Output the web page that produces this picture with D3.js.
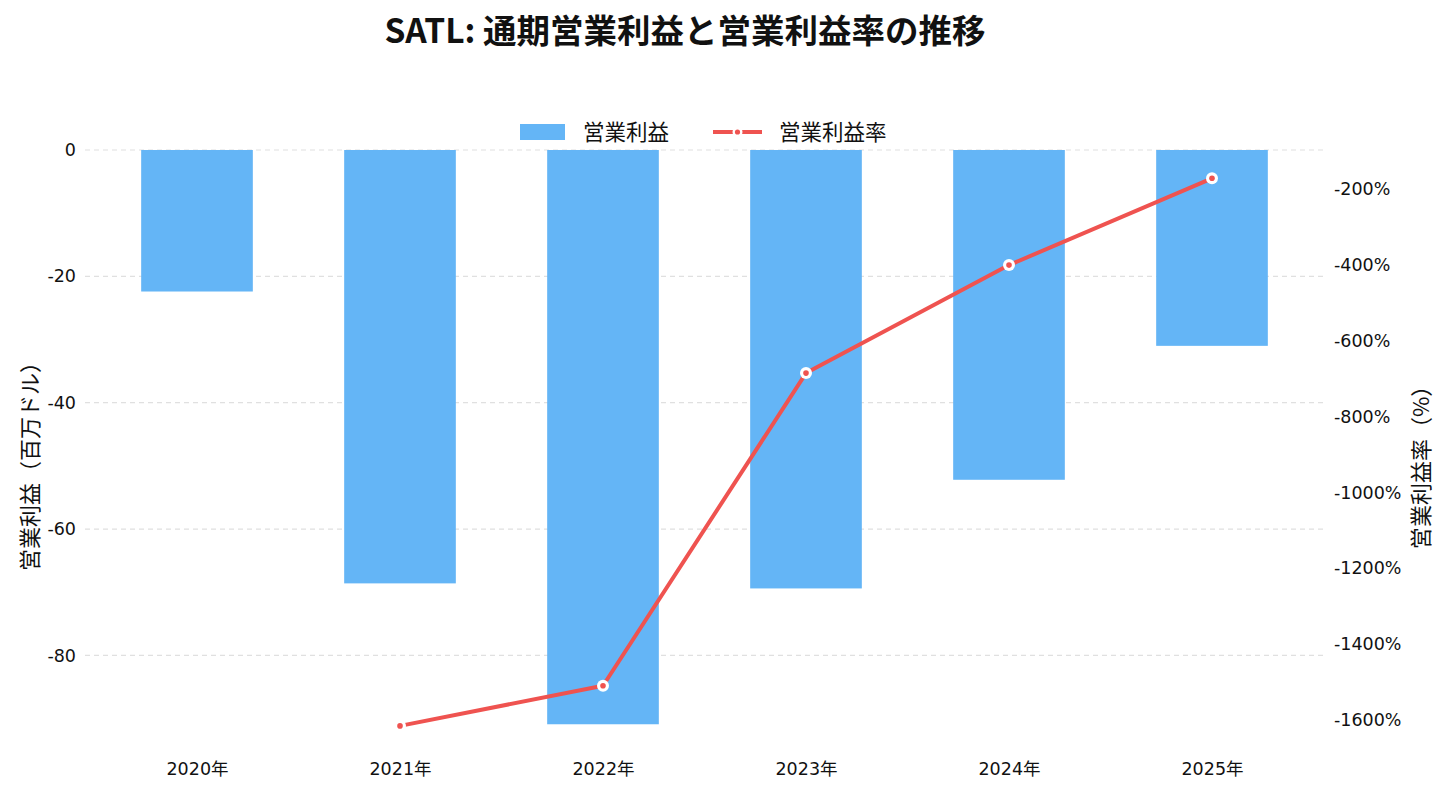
<!DOCTYPE html>
<html><head><meta charset="utf-8">
<script src="https://cdn.jsdelivr.net/npm/d3@7"></script>
<style>body{margin:0;background:#fff;}</style>
</head><body><svg id="c" width="1450" height="798"></svg>
<script>
const categories = ["2020年","2021年","2022年","2023年","2024年","2025年"];
const operatingProfit = [-22.4, -68.6, -90.9, -69.4, -52.2, -31.0];
const operatingMargin = [null, -1616, -1510, -685, -400, -171];
const leftTicks = [0, -20, -40, -60, -80];
const rightTicks = [-200, -400, -600, -800, -1000, -1200, -1400, -1600];

const svg = d3.select("#c");
const plot = {left: 85, right: 1325, top: 150, bottom: 735};
const barColor = "#64B5F6", lineColor = "#EF5350";
const tickFont = "'DejaVu Sans','Noto Sans CJK JP',sans-serif";
const cjkFont = "'Noto Sans CJK JP','DejaVu Sans',sans-serif";

const x = d3.scalePoint().domain(categories).range([95.5, 1313.5]).padding(0.5);
const bw = x.step() * 0.55;
const yL = d3.scaleLinear().domain([-92.6, 0]).range([plot.bottom, plot.top]);
const yR = d3.scaleLinear().domain([-1640, -96.3]).range([plot.bottom, plot.top]);

// gridlines
svg.append("g").selectAll("line").data(leftTicks).join("line")
  .attr("x1", plot.left).attr("x2", plot.right)
  .attr("y1", d => yL(d)).attr("y2", d => yL(d))
  .attr("stroke", "#e0e0e0").attr("stroke-width", 1.2).attr("stroke-dasharray", "5,4");

function styleTicks(ax) {
  ax.select(".domain").remove();
  ax.selectAll("text").style("font-size", "17.5px").style("fill", "#111").style("font-family", tickFont);
}

// left axis
const axL = svg.append("g").attr("transform", `translate(${plot.left},0)`)
  .call(d3.axisLeft(yL).tickValues(leftTicks).tickSize(0).tickPadding(9).tickFormat(d => String(d)));
styleTicks(axL);

// right axis
const axR = svg.append("g").attr("transform", `translate(${plot.right},0)`)
  .call(d3.axisRight(yR).tickValues(rightTicks).tickSize(0).tickPadding(9).tickFormat(d => String(d) + "%"));
styleTicks(axR);

// x axis
const axX = svg.append("g").attr("transform", `translate(0,${plot.bottom})`)
  .call(d3.axisBottom(x).tickSize(0).tickPadding(28));
styleTicks(axX);

// bars
svg.append("g").selectAll("rect").data(operatingProfit).join("rect")
  .attr("x", (d, i) => x(categories[i]) - bw / 2)
  .attr("width", bw)
  .attr("y", d => yL(Math.max(0, d)))
  .attr("height", d => Math.abs(yL(d) - yL(0)))
  .attr("fill", barColor);

// line
const pts = operatingMargin.map((v, i) => ({c: categories[i], v})).filter(d => d.v !== null);
svg.append("path").datum(pts)
  .attr("d", d3.line().x(d => x(d.c)).y(d => yR(d.v)))
  .attr("fill", "none").attr("stroke", lineColor).attr("stroke-width", 4).attr("stroke-linejoin", "round");
const mk = svg.append("g").selectAll("g").data(pts).join("g")
  .attr("transform", d => `translate(${x(d.c)},${yR(d.v)})`);
mk.append("circle").attr("r", 6).attr("fill", "#fff");
mk.append("circle").attr("r", 2.8).attr("fill", lineColor);

// axis titles
svg.append("text").attr("transform", "translate(38,461) rotate(-90)")
  .attr("text-anchor", "middle").style("font-size", "22px").style("fill", "#111").style("font-family", cjkFont).text("営業利益（百万ドル）");
svg.append("text").attr("transform", "translate(1429,462) rotate(-90)")
  .attr("text-anchor", "middle").style("font-size", "22px").style("fill", "#111").style("font-family", cjkFont).text("営業利益率（%）");

// title
svg.append("text").attr("x", 685).attr("y", 43).attr("text-anchor", "middle")
  .style("font-size", "33.5px").style("font-weight", "bold").style("fill", "#111").style("font-family", cjkFont)
  .text("SATL: 通期営業利益と営業利益率の推移");

// legend
const lg = svg.append("g");
lg.append("rect").attr("x", 520).attr("y", 124).attr("width", 45).attr("height", 16).attr("fill", barColor);
lg.append("text").attr("x", 583).attr("y", 140).style("font-size", "21.5px").style("fill", "#111").style("font-family", cjkFont).text("営業利益");
lg.append("line").attr("x1", 713).attr("x2", 762).attr("y1", 132).attr("y2", 132)
  .attr("stroke", lineColor).attr("stroke-width", 4);
lg.append("circle").attr("cx", 737.5).attr("cy", 132).attr("r", 5).attr("fill", "#fff");
lg.append("circle").attr("cx", 737.5).attr("cy", 132).attr("r", 2.6).attr("fill", lineColor);
lg.append("text").attr("x", 779).attr("y", 140).style("font-size", "21.5px").style("fill", "#111").style("font-family", cjkFont).text("営業利益率");
</script></body></html>
